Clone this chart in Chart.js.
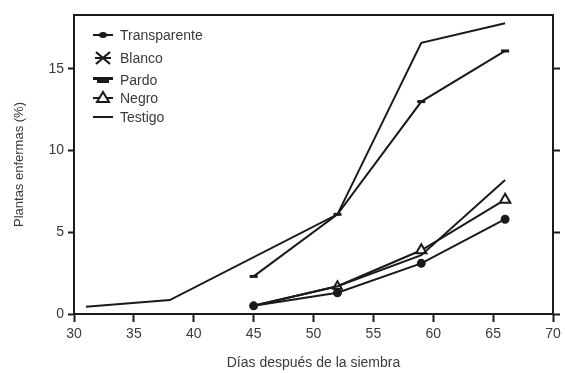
<!DOCTYPE html>
<html>
<head>
<meta charset="utf-8">
<script src="https://cdn.jsdelivr.net/npm/chart.js@4.4.1/dist/chart.umd.min.js"></script>
<style>
  html, body { margin: 0; padding: 0; background: #fff; }
  #wrap { width: 565px; height: 373px; }
</style>
</head>
<body>
<div id="wrap"><canvas id="grafico" width="565" height="373"></canvas></div>
<script>
// datos
const dias = [45, 52, 59, 66];
const diasTestigo = [31, 38, 52, 59, 66];
const transparente = [0.5, 1.3, 3.1, 5.8];
const blanco = [0.5, 1.7, 3.6, 8.2];
const pardo = [2.3, 6.1, 13.0, 16.1];
const negro = [0.5, 1.7, 3.9, 7.0];
const testigo = [0.45, 0.85, 6.1, 16.6, 17.8];

const nombres = ['Transparente', 'Blanco', 'Pardo', 'Negro', 'Testigo'];
const ticksX = [30, 35, 40, 45, 50, 55, 60, 65, 70];
const ticksY = [0, 5, 10, 15];

const tinta = '#1a1a1a';
const gris = '#3a3a3a';
const fuente = "'Liberation Sans', Arial, sans-serif";

function puntos(xs, ys) {
    return xs.map((x, i) => ({ x: x, y: ys[i] }));
}

// leyenda dentro del área del gráfico
const leyendaInterna = {
    id: 'leyendaInterna',
    afterDraw(chart) {
        const ctx = chart.ctx;
        const filas = [35, 58, 80, 98, 117];
        const x0 = 93, x1 = 113, xc = 103, xt = 120;
        ctx.save();
        ctx.font = '14px ' + fuente;
        ctx.textBaseline = 'middle';
        nombres.forEach((nombre, i) => {
            const y = filas[i];
            ctx.strokeStyle = tinta;
            ctx.fillStyle = tinta;
            ctx.lineWidth = 2;
            if (i !== 1 && i !== 2) {
                ctx.beginPath();
                ctx.moveTo(x0, y);
                ctx.lineTo(x1, y);
                ctx.stroke();
            }
            if (i === 0) {
                ctx.beginPath();
                ctx.ellipse(xc, y, 4, 3, 0, 0, Math.PI * 2);
                ctx.fill();
            } else if (i === 1) {
                ctx.beginPath();
                ctx.lineWidth = 2.2;
                ctx.moveTo(xc - 7, y - 6); ctx.lineTo(xc + 7, y + 6);
                ctx.moveTo(xc + 7, y - 6); ctx.lineTo(xc - 7, y + 6);
                ctx.moveTo(xc - 8, y); ctx.lineTo(xc + 8, y);
                ctx.stroke();
            } else if (i === 2) {
                ctx.fillRect(x0, y - 3, 20, 3);
                ctx.fillRect(x0 + 4, y - 1, 12, 4);
            } else if (i === 3) {
                ctx.beginPath();
                ctx.moveTo(xc, y - 6);
                ctx.lineTo(xc + 6, y + 4);
                ctx.lineTo(xc - 6, y + 4);
                ctx.closePath();
                ctx.fillStyle = '#fff';
                ctx.fill();
                ctx.stroke();
            }
            ctx.fillStyle = gris;
            ctx.fillText(nombre, xt, y + 1);
        });
        ctx.restore();
    }
};

// borde superior del marco
const marco = {
    id: 'marco',
    afterDraw(chart) {
        const a = chart.chartArea;
        const ctx = chart.ctx;
        ctx.save();
        ctx.strokeStyle = tinta;
        ctx.lineWidth = 2;
        ctx.beginPath();
        ctx.moveTo(a.left, a.top);
        ctx.lineTo(a.right, a.top);
        ctx.stroke();
        ctx.restore();
    }
};

const linea = { borderColor: tinta, borderWidth: 2, tension: 0, fill: false };

new Chart(document.getElementById('grafico').getContext('2d'), {
    type: 'line',
    data: {
        datasets: [
            Object.assign({}, linea, {
                label: nombres[0], data: puntos(dias, transparente),
                pointStyle: 'circle', pointRadius: 3.5, pointBackgroundColor: tinta, pointBorderColor: tinta
            }),
            Object.assign({}, linea, {
                label: nombres[1], data: puntos(dias, blanco), pointRadius: 0
            }),
            Object.assign({}, linea, {
                label: nombres[2], data: puntos(dias, pardo),
                pointStyle: 'line', pointRadius: 4, pointBorderWidth: 3, pointBorderColor: tinta
            }),
            Object.assign({}, linea, {
                label: nombres[3], data: puntos(dias, negro),
                pointStyle: 'triangle', pointRadius: [0, 5, 6, 6], pointBorderWidth: 2,
                pointBackgroundColor: '#fff', pointBorderColor: tinta
            }),
            Object.assign({}, linea, {
                label: nombres[4], data: puntos(diasTestigo, testigo), pointRadius: 0
            })
        ]
    },
    options: {
        responsive: false,
        animation: false,
        layout: { padding: { top: 15, right: 0, left: 0, bottom: 0 } },
        plugins: {
            legend: { display: false },
            tooltip: { enabled: false }
        },
        scales: {
            x: {
                type: 'linear',
                min: 30,
                max: 70,
                afterBuildTicks: s => { s.ticks = ticksX.map(v => ({ value: v })); },
                afterFit: s => { s.height = 59; },
                ticks: { color: gris, font: { family: fuente, size: 14 }, padding: 4, maxRotation: 0 },
                grid: { drawOnChartArea: false, color: tinta, tickLength: 8, tickWidth: 2 },
                border: { color: tinta, width: 2 },
                title: {
                    display: true, text: 'Días después de la siembra',
                    color: gris, font: { family: fuente, size: 14 }, padding: { top: 0, bottom: 1 }
                }
            },
            y: {
                min: 0,
                max: 18.3,
                afterBuildTicks: s => { s.ticks = ticksY.map(v => ({ value: v })); },
                afterFit: s => { s.width = 74; },
                ticks: { color: gris, font: { family: fuente, size: 14 }, padding: 4 },
                grid: { drawOnChartArea: false, color: tinta, tickLength: 6, tickWidth: 2 },
                border: { color: tinta, width: 2 },
                title: {
                    display: true, text: 'Plantas enfermas (%)',
                    color: gris, font: { family: fuente, size: 13 }, padding: { top: 12, bottom: 0 }
                }
            },
            y2: {
                position: 'right',
                min: 0,
                max: 18.3,
                afterBuildTicks: s => { s.ticks = ticksY.map(v => ({ value: v })); },
                afterFit: s => { s.width = 12; },
                ticks: { display: false },
                grid: { drawOnChartArea: false, color: tinta, tickLength: 7, tickWidth: 2 },
                border: { color: tinta, width: 2 }
            }
        }
    },
    plugins: [leyendaInterna, marco]
});
</script>
</body>
</html>
